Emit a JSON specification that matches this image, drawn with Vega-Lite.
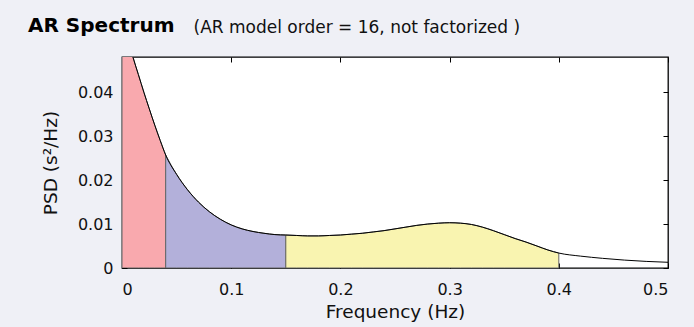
{
  "$schema": "https://vega.github.io/schema/vega-lite/v6.json",
  "autosize": {"type": "none"},
  "width": 546,
  "height": 211,
  "padding": {"left": 122, "top": 57, "right": 26, "bottom": 59},
  "background": "#eff0f6",
  "config": {
    "view": {"stroke": "#000", "strokeWidth": 1.3, "fill": "#ffffff"},
    "font": "DejaVu Sans",
    "axis": {"labelFont": "DejaVu Sans", "titleFont": "DejaVu Sans", "labelColor": "#111", "titleColor": "#111", "tickColor": "#000", "domain": false, "grid": false, "labelFontSize": 16, "titleFontSize": 18.5, "titleFontWeight": "normal"}
  },
  "title": {"text": "AR Spectrum", "anchor": "start", "frame": "group", "dx": -94, "offset": -34, "baseline": "alphabetic", "fontSize": 20, "fontWeight": "bold", "font": "DejaVu Sans", "color": "#000"},
  "data": {"values": [
    {"f": 0.0, "psd": 0.056, "band": "VLF"},
    {"f": 0.005, "psd": 0.0525, "band": "VLF"},
    {"f": 0.01, "psd": 0.048, "band": "VLF"},
    {"f": 0.015, "psd": 0.044, "band": "VLF"},
    {"f": 0.02, "psd": 0.04, "band": "VLF"},
    {"f": 0.025, "psd": 0.0362, "band": "VLF"},
    {"f": 0.03, "psd": 0.0325, "band": "VLF"},
    {"f": 0.035, "psd": 0.029, "band": "VLF"},
    {"f": 0.04, "psd": 0.0257, "band": "VLF"},
    {"f": 0.04, "psd": 0.0257, "band": "LF"},
    {"f": 0.05, "psd": 0.0213, "band": "LF"},
    {"f": 0.06, "psd": 0.0178, "band": "LF"},
    {"f": 0.07, "psd": 0.015, "band": "LF"},
    {"f": 0.08, "psd": 0.0128, "band": "LF"},
    {"f": 0.09, "psd": 0.0111, "band": "LF"},
    {"f": 0.1, "psd": 0.0098, "band": "LF"},
    {"f": 0.11, "psd": 0.0089, "band": "LF"},
    {"f": 0.12, "psd": 0.0083, "band": "LF"},
    {"f": 0.13, "psd": 0.0079, "band": "LF"},
    {"f": 0.14, "psd": 0.0076, "band": "LF"},
    {"f": 0.15, "psd": 0.0075, "band": "LF"},
    {"f": 0.15, "psd": 0.0075, "band": "HF"},
    {"f": 0.16, "psd": 0.0074, "band": "HF"},
    {"f": 0.17, "psd": 0.0073, "band": "HF"},
    {"f": 0.18, "psd": 0.0073, "band": "HF"},
    {"f": 0.19, "psd": 0.0074, "band": "HF"},
    {"f": 0.2, "psd": 0.0075, "band": "HF"},
    {"f": 0.21, "psd": 0.0077, "band": "HF"},
    {"f": 0.22, "psd": 0.0079, "band": "HF"},
    {"f": 0.23, "psd": 0.0082, "band": "HF"},
    {"f": 0.24, "psd": 0.0085, "band": "HF"},
    {"f": 0.25, "psd": 0.0089, "band": "HF"},
    {"f": 0.26, "psd": 0.0093, "band": "HF"},
    {"f": 0.27, "psd": 0.0097, "band": "HF"},
    {"f": 0.28, "psd": 0.01, "band": "HF"},
    {"f": 0.29, "psd": 0.0102, "band": "HF"},
    {"f": 0.3, "psd": 0.0103, "band": "HF"},
    {"f": 0.31, "psd": 0.0102, "band": "HF"},
    {"f": 0.32, "psd": 0.0099, "band": "HF"},
    {"f": 0.33, "psd": 0.0093, "band": "HF"},
    {"f": 0.34, "psd": 0.0085, "band": "HF"},
    {"f": 0.35, "psd": 0.0076, "band": "HF"},
    {"f": 0.36, "psd": 0.0067, "band": "HF"},
    {"f": 0.37, "psd": 0.0059, "band": "HF"},
    {"f": 0.38, "psd": 0.005, "band": "HF"},
    {"f": 0.39, "psd": 0.0041, "band": "HF"},
    {"f": 0.4, "psd": 0.0034, "band": "HF"},
    {"f": 0.42, "psd": 0.0027, "band": "none"},
    {"f": 0.44, "psd": 0.0022, "band": "none"},
    {"f": 0.46, "psd": 0.0018, "band": "none"},
    {"f": 0.48, "psd": 0.0015, "band": "none"},
    {"f": 0.5, "psd": 0.0013, "band": "none"}
  ]},
  "layer": [
    {
      "transform": [{"filter": "datum.band !== 'none'"}],
      "mark": {"type": "area", "clip": true, "stroke": "#666", "strokeWidth": 1, "interpolate": "monotone"},
      "encoding": {
        "x": {"field": "f", "type": "quantitative", "scale": {"domain": [0, 0.5], "nice": false},
          "axis": {"orient": "bottom", "values": [0, 0.1, 0.2, 0.3, 0.4, 0.5], "format": ".1~f", "tickSize": -5, "labelPadding": 18, "title": "Frequency (Hz)", "titlePadding": 5}},
        "y": {"field": "psd", "type": "quantitative", "stack": null, "scale": {"domain": [0, 0.048], "nice": false},
          "axis": {"orient": "left", "values": [0, 0.01, 0.02, 0.03, 0.04], "format": ".2~f", "tickSize": -5, "labelPadding": 14, "title": "PSD (s²/Hz)", "titlePadding": 17}},
        "fill": {"field": "band", "type": "nominal", "scale": {"domain": ["VLF", "LF", "HF"], "range": ["#f9a9ae", "#b3b0da", "#f9f4b0"]}, "legend": null}
      }
    },
    {
      "mark": {"type": "line", "clip": true, "color": "#000", "strokeWidth": 1, "interpolate": "monotone"},
      "encoding": {
        "x": {"field": "f", "type": "quantitative",
          "axis": {"orient": "top", "values": [0, 0.1, 0.2, 0.3, 0.4, 0.5], "tickSize": -5, "labels": false, "title": "(AR model order = 16, not factorized )", "titleAnchor": "start", "titleAlign": "left", "titleX": 71, "titleY": -25, "titleBaseline": "alphabetic", "titleFontSize": 17}},
        "y": {"field": "psd", "type": "quantitative",
          "axis": {"orient": "right", "values": [0, 0.01, 0.02, 0.03, 0.04], "tickSize": -5, "labels": false, "title": null}}
      }
    }
  ],
  "resolve": {"axis": {"x": "independent", "y": "independent"}}
}
